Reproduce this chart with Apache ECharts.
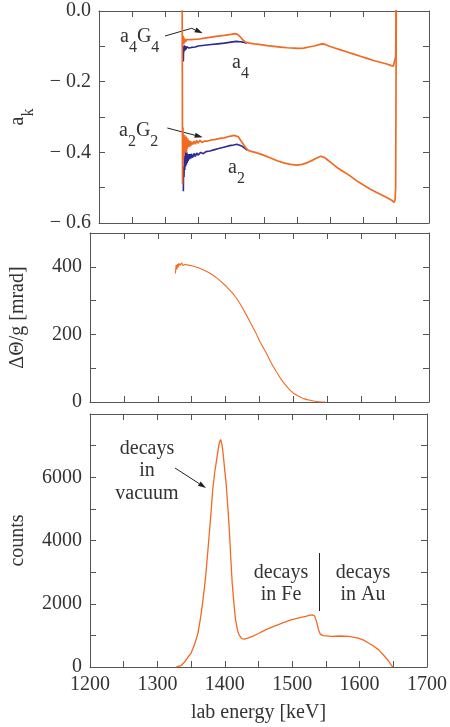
<!DOCTYPE html>
<html><head><meta charset="utf-8">
<script src="https://cdn.jsdelivr.net/npm/echarts@6/dist/echarts.min.js"></script>
<style>html,body{margin:0;padding:0;background:#fff}#c{width:450px;height:727px}</style>
</head><body><div id="c"></div>
<script>
// ---------- data ----------
const xMin = 1200, xMax = 1700;

// top panel: a4G4 (orange), a4 (blue), a2G2 (orange), a2 (blue)
const a4G4E = [1327.5,1328,1328.5,1329,1329.6,1330.2,1330.8,1331.5,1332.2,1333,1334,1335,1336.5,1338,1340,1343,1346,1350,1360,1370,1380,1390,1400,1406,1410,1414,1418,1422,1428,1435,1445,1455,1465,1475,1485,1495,1502,1510,1518,1526,1532,1538,1542,1548,1556,1566,1576,1586,1596,1606,1616,1626,1636,1642,1646,1648,1649.5,1650.5];
const a4G4V = [-0.07,-0.095,-0.075,-0.092,-0.078,-0.089,-0.080,-0.087,-0.081,-0.086,-0.081,-0.085,-0.081,-0.084,-0.081,-0.082,-0.080,-0.080,-0.077,-0.074,-0.071,-0.069,-0.066,-0.064,-0.066,-0.073,-0.082,-0.088,-0.091,-0.093,-0.095,-0.098,-0.100,-0.102,-0.104,-0.105,-0.106,-0.105,-0.102,-0.099,-0.096,-0.093,-0.094,-0.099,-0.104,-0.110,-0.116,-0.122,-0.128,-0.134,-0.140,-0.145,-0.150,-0.154,-0.156,-0.14,-0.13,0.05];

const a4E = [1327.8,1328.3,1328.8,1329.3,1329.9,1330.5,1331.1,1331.7,1332.3,1333,1334,1335,1336.5,1338,1340,1343,1346,1350,1360,1370,1380,1390,1400,1408,1414,1418,1424];
const a4V = [-0.143,-0.100,-0.115,-0.097,-0.112,-0.099,-0.110,-0.100,-0.108,-0.101,-0.106,-0.100,-0.105,-0.100,-0.103,-0.100,-0.102,-0.099,-0.097,-0.095,-0.093,-0.091,-0.088,-0.086,-0.087,-0.088,-0.091];

const a2G2E = [1326,1326.6,1327.2,1327.8,1328.4,1329,1329.6,1330.2,1330.8,1331.4,1332,1332.6,1333.2,1333.8,1334.4,1335,1336,1337,1338,1339,1340,1342,1344,1346,1348,1350,1353,1356,1360,1365,1370,1375,1380,1385,1390,1395,1400,1405,1408,1411,1415,1419,1423,1427,1432,1438,1445,1452,1460,1470,1480,1490,1500,1508,1516,1524,1530,1536,1539,1542,1546,1552,1560,1570,1580,1590,1600,1610,1620,1630,1638,1644,1647,1648.5,1649.5,1650.5];
const a2G2V = [0.05,-0.49,-0.33,-0.42,-0.36,-0.41,-0.35,-0.40,-0.36,-0.39,-0.355,-0.40,-0.37,-0.39,-0.36,-0.385,-0.365,-0.385,-0.368,-0.382,-0.370,-0.378,-0.368,-0.377,-0.366,-0.374,-0.366,-0.372,-0.368,-0.368,-0.365,-0.364,-0.362,-0.360,-0.359,-0.356,-0.354,-0.352,-0.351,-0.356,-0.367,-0.378,-0.389,-0.395,-0.398,-0.401,-0.405,-0.410,-0.416,-0.424,-0.430,-0.434,-0.436,-0.434,-0.429,-0.422,-0.416,-0.411,-0.410,-0.415,-0.421,-0.430,-0.442,-0.454,-0.466,-0.480,-0.492,-0.503,-0.513,-0.522,-0.530,-0.536,-0.542,-0.535,-0.50,0.05];

const a2E = [1327.8,1328.2,1328.8,1329.4,1330,1330.6,1331.2,1331.8,1332.4,1333,1333.6,1334.2,1335,1336,1337,1338,1339,1340,1342,1344,1346,1348,1350,1354,1358,1362,1368,1374,1380,1386,1392,1398,1404,1409,1413,1417,1421,1425];
const a2V = [-0.51,-0.44,-0.47,-0.41,-0.45,-0.40,-0.44,-0.405,-0.435,-0.40,-0.43,-0.405,-0.425,-0.405,-0.42,-0.405,-0.418,-0.404,-0.415,-0.403,-0.412,-0.402,-0.408,-0.400,-0.404,-0.398,-0.396,-0.393,-0.390,-0.387,-0.384,-0.381,-0.379,-0.377,-0.380,-0.383,-0.389,-0.394];

// middle panel: ΔΘ/g [mrad]
const dthE = [1326,1327,1328,1329,1330,1331,1333,1335,1337,1340,1345,1350,1355,1360,1365,1370,1375,1380,1385,1390,1395,1400,1405,1410,1415,1420,1425,1430,1435,1440,1445,1450,1455,1460,1465,1470,1475,1480,1485,1490,1495,1500,1505,1510,1515,1520,1525,1530,1535,1540,1547];
const dthV = [380,405,392,408,398,410,404,412,404,407,405,403,400,397,393,388,383,377,370,362,353,344,333,323,310,295,278,260,241,222,203,181,163,145,124,106,89,73,59,46,35,26,20,15,10,7,5,3,1.5,0.5,0];

// bottom panel: counts
const cntE = [1328,1335,1340,1345,1350,1355,1360,1364,1367,1370,1372,1375,1377,1380,1382,1385,1387,1390,1392,1394,1396,1398,1400,1402,1405,1407,1409,1411,1414,1416,1419,1421,1425,1429,1435,1441,1450,1461,1470,1485,1497,1510,1520,1526,1530,1533,1536,1539,1542,1546,1559,1570,1584,1598,1606,1613,1620,1628,1637,1643,1648,1650];
const cntV = [0,40,150,300,440,700,1050,1550,2020,2550,2960,3700,4220,5000,5590,6150,6430,6850,7110,7190,7000,6650,6200,5800,4900,4220,3400,2650,1900,1490,1150,1020,900,880,920,970,1060,1180,1260,1390,1480,1550,1600,1640,1650,1620,1450,1180,1030,990,970,980,970,910,850,760,670,550,340,190,30,0];

const ORANGE = '#f26a21', BLUE = '#2b2b95', TXT = '#333', AX = '#555';
const FONT = 'Liberation Serif';

const zip = (e, v) => e.map((x, i) => [x, v[i]]);

const axLine = {show: true, onZero: false, lineStyle: {color: AX, width: 1}};
const axTick = {show: true, inside: true, length: 6, lineStyle: {color: AX, width: 1}};
const lab = {fontFamily: FONT, fontSize: 20, color: TXT, margin: 8};

function xAx(grid, pos, showLab) {
  return {type: 'value', gridIndex: grid, position: pos, min: xMin, max: xMax, interval: 50,
    axisLine: axLine, axisTick: axTick, splitLine: {show: false},
    axisLabel: showLab ? Object.assign({}, lab, {formatter: v => (v % 100 === 0 ? String(v) : '')}) : {show: false}};
}
function yAx(grid, pos, min, max, interval, fmt, extra) {
  return Object.assign({type: 'value', gridIndex: grid, position: pos, min, max, interval,
    axisLine: axLine, axisTick: axTick, splitLine: {show: false},
    axisLabel: fmt ? Object.assign({}, lab, {formatter: fmt}) : {show: false}}, extra || {});
}

const nameStyle = {fontFamily: FONT, fontSize: 20, color: TXT};
const subRich = {
  b: {fontFamily: FONT, fontSize: 20, fill: TXT, color: TXT, verticalAlign: 'top', padding: [0, 0, 9, 0]},
  s: {fontFamily: FONT, fontSize: 16, fill: TXT, color: TXT, verticalAlign: 'bottom'}
};

const option = {
  animation: false,
  backgroundColor: '#fff',
  grid: [
    {left: 90, width: 339, top: 11, height: 212},
    {left: 90, width: 339, top: 233, height: 169},
    {left: 90, width: 339, top: 414, height: 253}
  ],
  xAxis: [
    xAx(0, 'bottom', false), xAx(0, 'top', false),
    xAx(1, 'bottom', false), xAx(1, 'top', false),
    Object.assign(xAx(2, 'bottom', true), {name: 'lab energy [keV]', nameLocation: 'middle', nameGap: 36, nameTextStyle: nameStyle}),
    xAx(2, 'top', false)
  ],
  yAxis: [
    yAx(0, 'left', -0.6, 0, 0.1, v => { const k = Math.round(v * 10); if (k % 2 !== 0) return ''; return k === 0 ? '0.0' : '\u2212 ' + Math.abs(v).toFixed(1); },
      {name: '{b|a}{s|k}', nameLocation: 'middle', nameGap: 62, nameTextStyle: Object.assign({rich: subRich}, nameStyle)}),
    yAx(0, 'right', -0.6, 0, 0.1, null),
    yAx(1, 'left', 0, 500, 100, v => (v % 200 === 0 ? String(v) : ''),
      {name: '\u0394\u0398/g [mrad]', nameLocation: 'middle', nameGap: 62, nameTextStyle: nameStyle}),
    yAx(1, 'right', 0, 500, 100, null),
    yAx(2, 'left', 0, 8000, 1000, v => (v % 2000 === 0 && v < 8000 ? String(v) : ''),
      {name: 'counts', nameLocation: 'middle', nameGap: 62, nameTextStyle: nameStyle}),
    yAx(2, 'right', 0, 8000, 1000, null)
  ],
  series: [
    {name: 'a4', type: 'line', xAxisIndex: 0, yAxisIndex: 0, data: zip(a4E, a4V), showSymbol: false, symbol: 'none', lineStyle: {color: BLUE, width: 1.6}, itemStyle: {color: BLUE}},
    {name: 'a2', type: 'line', xAxisIndex: 0, yAxisIndex: 0, data: zip(a2E, a2V), showSymbol: false, symbol: 'none', lineStyle: {color: BLUE, width: 1.6}, itemStyle: {color: BLUE}},
    {name: 'a4G4', type: 'line', xAxisIndex: 0, yAxisIndex: 0, data: zip(a4G4E, a4G4V), showSymbol: false, symbol: 'none', lineStyle: {color: ORANGE, width: 1.7}, itemStyle: {color: ORANGE}},
    {name: 'a2G2', type: 'line', xAxisIndex: 0, yAxisIndex: 0, data: zip(a2G2E, a2G2V), showSymbol: false, symbol: 'none', lineStyle: {color: ORANGE, width: 1.7}, itemStyle: {color: ORANGE}},
    {name: 'dtheta', type: 'line', xAxisIndex: 2, yAxisIndex: 2, data: zip(dthE, dthV), showSymbol: false, symbol: 'none', lineStyle: {color: ORANGE, width: 1.1}, itemStyle: {color: ORANGE}},
    {name: 'counts', type: 'line', xAxisIndex: 4, yAxisIndex: 4, data: zip(cntE, cntV), showSymbol: false, symbol: 'none', lineStyle: {color: ORANGE, width: 1.3}, itemStyle: {color: ORANGE}}
  ]
};

// ---------- annotations ----------
function arrow(pts) {
  const n = pts.length, p = pts[n - 1], q = pts[n - 2];
  const ang = Math.atan2(p[1] - q[1], p[0] - q[0]);
  const L = 8, W = 2.6;
  const bx = p[0] - L * Math.cos(ang), by = p[1] - L * Math.sin(ang);
  const nx = -Math.sin(ang) * W, ny = Math.cos(ang) * W;
  const line = pts.slice(0, n - 1).concat([[bx, by]]);
  return [
    {type: 'polyline', shape: {points: line}, style: {stroke: '#222', lineWidth: 1, fill: null}},
    {type: 'polygon', shape: {points: [p, [bx + nx, by + ny], [bx - nx, by - ny]]}, style: {fill: '#222'}}
  ];
}
function subText(str, x, y) {
  return {type: 'text', x, y, style: {text: str, rich: subRich, align: 'left', verticalAlign: 'top'}};
}
function plainText(str, x, y) {
  return {type: 'text', x, y, style: {text: str, fill: TXT, font: '20px "Liberation Serif"', fontSize: 20, fontFamily: FONT, align: 'center', verticalAlign: 'top', lineHeight: 22.5}};
}
option.graphic = [].concat(
  [subText('{b|a}{s|4}{b|G}{s|4}', 120, 27),
   subText('{b|a}{s|4}', 232, 53),
   subText('{b|a}{s|2}{b|G}{s|2}', 119, 121),
   subText('{b|a}{s|2}', 228, 158)],
  arrow([[165, 36], [191.7, 28.3], [202.7, 33.3]]),
  arrow([[167.3, 128], [202.7, 137.3]]),
  arrow([[175, 468], [206, 488]]),
  [plainText('decays\nin\nvacuum', 147, 437),
   plainText('decays\nin Fe', 281, 561),
   plainText('decays\nin Au', 363, 561),
   {type: 'line', shape: {x1: 319.5, y1: 553, x2: 319.5, y2: 611}, style: {stroke: '#222', lineWidth: 1}}]
);

const chart = echarts.init(document.getElementById('c'), null, {renderer: 'canvas'});
chart.setOption(option);
</script>
</body></html>
